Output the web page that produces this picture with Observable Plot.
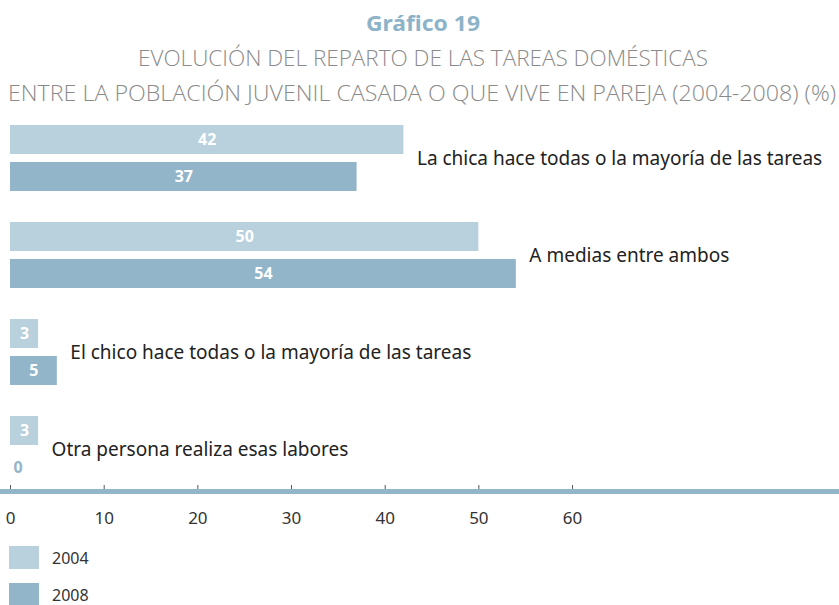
<!DOCTYPE html>
<html>
<head>
<meta charset="utf-8">
<script src="https://cdn.jsdelivr.net/npm/d3@7"></script>
<script src="https://cdn.jsdelivr.net/npm/@observablehq/plot@0.6"></script>
<style>
  html, body { margin: 0; padding: 0; background: #fff; }
  body { width: 839px; font-family: "Noto Sans", sans-serif; }
  #title svg { display: block; }
  #legend { margin-top: 6px; }
  .lg { display: flex; align-items: center; height: 23px; margin-bottom: 14px; margin-left: 9px; }
  .sw { width: 30px; height: 23px; margin-right: 13px; }
  .lt { font-size: 16px; line-height: 18px; color: #333; }
</style>
</head>
<body>
<div id="title">
  <svg width="839" height="110">
    <text x="423" y="31" text-anchor="middle" font-family="Noto Sans" font-weight="bold" font-size="22" fill="#8db3c8" textLength="114" lengthAdjust="spacingAndGlyphs">Gráfico 19</text>
    <text x="423" y="66" text-anchor="middle" font-family="Open Sans" font-weight="300" font-size="22" fill="#8a8a8a" textLength="570" lengthAdjust="spacingAndGlyphs">EVOLUCIÓN DEL REPARTO DE LAS TAREAS DOMÉSTICAS</text>
    <text x="422" y="101" text-anchor="middle" font-family="Open Sans" font-weight="300" font-size="22" fill="#8a8a8a" textLength="828" lengthAdjust="spacingAndGlyphs">ENTRE LA POBLACIÓN JUVENIL CASADA O QUE VIVE EN PAREJA (2004-2008) (%)</text>
  </svg>
</div>
<div id="chart"></div>
<div id="legend"></div>
<script>
const categories = [
  "La chica hace todas o la mayoría de las tareas",
  "A medias entre ambos",
  "El chico hace todas o la mayoría de las tareas",
  "Otra persona realiza esas labores"
];
const years = ["2004", "2008"];
const values2004 = [42, 50, 3, 3];
const values2008 = [37, 54, 5, 0];
const xTicks = [0, 10, 20, 30, 40, 50, 60];
const colors = ["#b9d1dd", "#93b5c9"];

const data = [];
categories.forEach((c, i) => {
  data.push({cat: c, year: "2004", value: values2004[i]});
  data.push({cat: c, year: "2008", value: values2008[i]});
});
const maxByCat = new Map(categories.map(c => [c, d3.max(data.filter(d => d.cat === c), d => d.value)]));

const chart = Plot.plot({
  width: 839,
  height: 430,
  marginLeft: 10,
  marginRight: 0,
  marginTop: 13,
  marginBottom: 56,
  style: {fontFamily: "Noto Sans, sans-serif", background: "#fff", overflow: "visible"},
  x: {domain: [0, 88.5], label: null},
  y: {domain: years, paddingInner: 0.21, paddingOuter: 0, axis: null},
  fy: {domain: categories, paddingInner: 0.3038, paddingOuter: 0, axis: null},
  color: {domain: years, range: colors},
  marks: [
    Plot.barX(data, {x: "value", y: "year", fy: "cat", fill: "year"}),
    Plot.text(data.filter(d => d.value > 0), {
      x: d => d.value / 2, y: "year", fy: "cat", text: d => String(d.value),
      fill: "white", fontWeight: "bold", fontSize: 16
    }),
    Plot.text(data.filter(d => d.value === 0), {
      x: "value", y: "year", fy: "cat", text: d => String(d.value),
      fill: colors[1], fontWeight: "bold", fontSize: 16, textAnchor: "start", dx: 3
    }),
    Plot.text(categories, {
      x: d => maxByCat.get(d), fy: d => d, text: d => d,
      textAnchor: "start", dx: 13, fontSize: 19, fill: "#222"
    }),
    Plot.axisX({ticks: xTicks, tickSize: 6, dy: 2, tickFormat: () => "", stroke: "#555", facetAnchor: "bottom", label: null}),
    Plot.frame({anchor: "bottom", stroke: "#93b5c9", strokeWidth: 5, dy: 8, insetLeft: -10, facetAnchor: "bottom"}),
    Plot.axisX({ticks: xTicks, tickSize: 0, tickPadding: 28, fontSize: 17, fill: "#333", facetAnchor: "bottom", label: null})
  ]
});
document.getElementById("chart").appendChild(chart);

const legend = document.getElementById("legend");
years.forEach((y, i) => {
  const row = document.createElement("div");
  row.className = "lg";
  row.innerHTML = `<div class="sw" style="background:${colors[i]}"></div><span class="lt">${y}</span>`;
  legend.appendChild(row);
});
</script>
</body>
</html>
